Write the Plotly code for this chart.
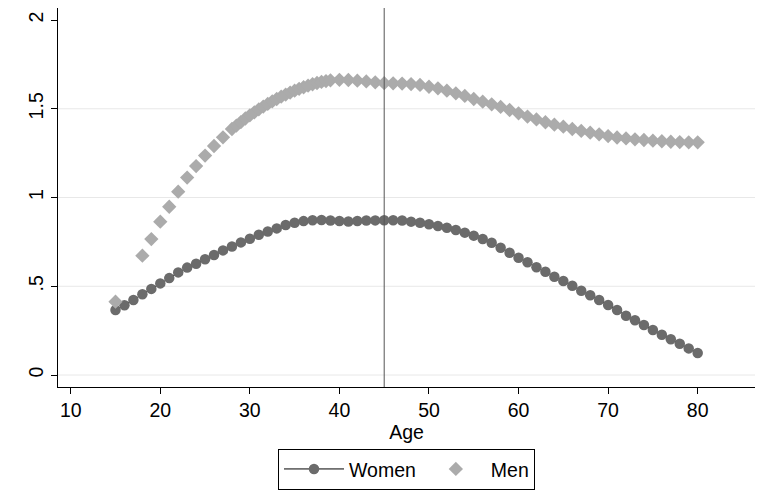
import plotly.graph_objects as go

# ---- data ----
women_age = list(range(15, 81))
women_val = [0.366, 0.393, 0.423, 0.455, 0.485, 0.516, 0.546, 0.578, 0.605, 0.627,
             0.652, 0.676, 0.702, 0.724, 0.747, 0.768, 0.790, 0.808, 0.826, 0.845,
             0.858, 0.867, 0.872, 0.873, 0.870, 0.868, 0.865, 0.868, 0.870, 0.871,
             0.872, 0.872, 0.870, 0.864, 0.858, 0.849, 0.839, 0.830, 0.817, 0.802,
             0.785, 0.766, 0.745, 0.717, 0.689, 0.661, 0.635, 0.607, 0.582, 0.554,
             0.530, 0.503, 0.475, 0.449, 0.423, 0.394, 0.366, 0.334, 0.308, 0.282,
             0.254, 0.227, 0.201, 0.176, 0.150, 0.124]

men_age = [15, 18, 19, 20, 21, 22, 23, 24, 25, 26, 27, 28,
           28.5, 29, 29.5, 30, 30.5, 31, 31.5, 32, 32.5, 33, 33.5, 34, 34.5,
           35, 35.5, 36, 36.5, 37, 37.5, 38, 38.5, 39,
           40, 41, 42, 43, 44, 45, 46, 47, 48, 49, 50, 51, 52, 53, 54, 55,
           56, 57, 58, 59, 60, 61, 62, 63, 64, 65, 66, 67, 68, 69, 70, 71,
           72, 73, 74, 75, 76, 77, 78, 79, 80]
men_val = [0.413, 0.672, 0.766, 0.864, 0.948, 1.033, 1.112, 1.177, 1.236, 1.290, 1.339, 1.386,
           1.405, 1.425, 1.445, 1.463, 1.480, 1.497, 1.512, 1.527, 1.541, 1.555, 1.568, 1.580, 1.591,
           1.602, 1.612, 1.621, 1.630, 1.638, 1.645, 1.651, 1.656, 1.660,
           1.663, 1.662, 1.658, 1.654, 1.649, 1.644, 1.643, 1.642, 1.639, 1.634, 1.624, 1.615, 1.602, 1.587, 1.572, 1.555,
           1.540, 1.525, 1.510, 1.493, 1.474, 1.456, 1.440, 1.424, 1.410, 1.399, 1.386, 1.375, 1.365, 1.356, 1.346, 1.338,
           1.333, 1.328, 1.324, 1.320, 1.317, 1.314, 1.312, 1.311, 1.311]

x_ticks = [10, 20, 30, 40, 50, 60, 70, 80]
y_ticks = [0, 0.5, 1, 1.5, 2]
y_tick_labels = ["0", ".5", "1", "1.5", "2"]
grid_levels = [0, 0.5, 1, 1.5]
ref_age = 45

FONT = "Liberation Sans, Arial, sans-serif"
FS = 19.5

fig = go.Figure()
fig.add_trace(go.Scatter(
    x=women_age, y=women_val, name="Women", mode="lines+markers",
    line=dict(color="black", width=1),
    marker=dict(symbol="circle", size=10.5, color="#6b6b6b"),
))
fig.add_trace(go.Scatter(
    x=men_age, y=men_val, name="Men", mode="markers",
    marker=dict(symbol="diamond", size=11, color="#ababab"),
))

for g in grid_levels:
    fig.add_shape(type="line", xref="paper", x0=0, x1=1, yref="y", y0=g, y1=g,
                  line=dict(color="#e8e8e8", width=1), layer="below")

fig.add_shape(type="line", xref="x", x0=ref_age, x1=ref_age, yref="paper", y0=0, y1=1,
              line=dict(color="#555555", width=1), layer="above")

# page body adds an 8px offset, so the figure is 756x487
fig.update_layout(
    width=756, height=487,
    margin=dict(l=50, r=9, t=0, b=108, autoexpand=False),
    paper_bgcolor="white", plot_bgcolor="white",
    font=dict(family=FONT, size=FS, color="black"),
    showlegend=True,
    legend=dict(orientation="h", x=0.5, xanchor="center", y=-0.163, yanchor="top",
                bordercolor="black", borderwidth=1, font=dict(size=FS),
                itemwidth=60, tracegroupgap=0),
)
fig.update_xaxes(
    range=[8.58, 86.4], tickvals=x_ticks, showgrid=False, zeroline=False,
    showline=True, linecolor="black", linewidth=1, automargin=False,
    ticks="outside", ticklen=6, tickcolor="black",
    title=dict(text="Age", standoff=0, font=dict(size=FS)),
    tickfont=dict(size=FS),
)
fig.update_yaxes(
    range=[-0.0676, 2.0676], tickvals=y_ticks, ticktext=y_tick_labels,
    showgrid=False, zeroline=False, automargin=False,
    showline=True, linecolor="black", linewidth=1,
    ticks="outside", ticklen=6, tickcolor="black", tickangle=-90,
    tickfont=dict(size=FS),
)

fig.write_html("out.html")
